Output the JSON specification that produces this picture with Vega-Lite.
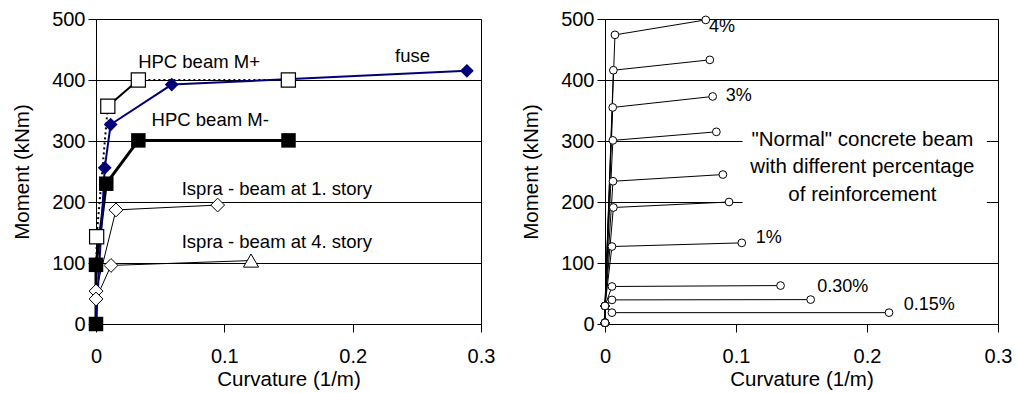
{
  "$schema": "https://vega.github.io/schema/vega-lite/v6.json",
  "padding": {"left": 12, "top": 8, "right": 5, "bottom": 2},
  "bounds": "flush",
  "spacing": 124,
  "config": {
    "font": "Liberation Sans",
    "view": {"stroke": "#000", "strokeWidth": 1},
    "axis": {
      "domainColor": "#000", "tickColor": "#000", "labelColor": "#000", "titleColor": "#000",
      "gridColor": "#000", "gridWidth": 1, "labelFont": "Liberation Sans", "titleFont": "Liberation Sans",
      "labelFontSize": 20, "titleFontSize": 20.5, "titleFontWeight": "normal", "tickSize": 8
    },
    "axisX": {"grid": false, "labelPadding": 14, "titlePadding": 3, "labelFlush": false},
    "axisY": {"grid": true, "labelPadding": 3, "titlePadding": 19}
  },
  "datasets": {
    "mminus": [{"x": 0, "y": 0}, {"x": 0, "y": 97}, {"x": 0.008, "y": 230}, {"x": 0.033, "y": 301}, {"x": 0.15, "y": 301}],
    "mplusPts": [{"x": 0.0005, "y": 143}, {"x": 0.0092, "y": 357}, {"x": 0.033, "y": 400}, {"x": 0.1499, "y": 400}],
    "mplusLines": [
      {"part": "rise", "x": 0, "y": 0}, {"part": "rise", "x": 0.0005, "y": 143}, {"part": "rise", "x": 0.0092, "y": 357},
      {"part": "knee", "x": 0.0092, "y": 357}, {"part": "knee", "x": 0.033, "y": 400},
      {"part": "plateau", "x": 0.033, "y": 400}, {"part": "plateau", "x": 0.1499, "y": 400}
    ],
    "fuse": [{"x": 0, "y": 0}, {"x": 0.0068, "y": 256}, {"x": 0.0114, "y": 327}, {"x": 0.059, "y": 392.5}, {"x": 0.289, "y": 415}],
    "ispra1": [{"x": 0, "y": 0}, {"x": 0, "y": 54}, {"x": 0.0156, "y": 187}, {"x": 0.0948, "y": 195}],
    "ispra4": [{"x": 0, "y": 0}, {"x": 0, "y": 41}, {"x": 0.0117, "y": 96}, {"x": 0.1208, "y": 104}],
    "leftLabels": [
      {"label": "HPC beam M+", "x": 0.0803, "y": 430},
      {"label": "fuse", "x": 0.2467, "y": 440},
      {"label": "HPC beam M-", "x": 0.089, "y": 335},
      {"label": "Ispra - beam at 1. story", "x": 0.1409, "y": 222},
      {"label": "Ispra - beam at 4. story", "x": 0.1409, "y": 134}
    ],
    "normal": [
      {"curve": "c1", "x": 0, "y": 2}, {"curve": "c1", "x": 0, "y": 29.6}, {"curve": "c1", "x": 0.0076, "y": 474}, {"curve": "c1", "x": 0.0769, "y": 498.5},
      {"curve": "c2", "x": 0, "y": 2}, {"curve": "c2", "x": 0, "y": 29.6}, {"curve": "c2", "x": 0.0064, "y": 416}, {"curve": "c2", "x": 0.08, "y": 433},
      {"curve": "c3", "x": 0, "y": 2}, {"curve": "c3", "x": 0, "y": 29.6}, {"curve": "c3", "x": 0.0059, "y": 355}, {"curve": "c3", "x": 0.0822, "y": 373},
      {"curve": "c4", "x": 0, "y": 2}, {"curve": "c4", "x": 0, "y": 29.6}, {"curve": "c4", "x": 0.006, "y": 301}, {"curve": "c4", "x": 0.085, "y": 315},
      {"curve": "c5", "x": 0, "y": 2}, {"curve": "c5", "x": 0, "y": 29.6}, {"curve": "c5", "x": 0.0061, "y": 234}, {"curve": "c5", "x": 0.09, "y": 245},
      {"curve": "c6", "x": 0, "y": 2}, {"curve": "c6", "x": 0, "y": 29.6}, {"curve": "c6", "x": 0.0064, "y": 191}, {"curve": "c6", "x": 0.0947, "y": 200},
      {"curve": "c7", "x": 0, "y": 2}, {"curve": "c7", "x": 0, "y": 29.6}, {"curve": "c7", "x": 0.0053, "y": 127}, {"curve": "c7", "x": 0.1044, "y": 133},
      {"curve": "c8", "x": 0, "y": 2}, {"curve": "c8", "x": 0, "y": 29.6}, {"curve": "c8", "x": 0.0053, "y": 61.5}, {"curve": "c8", "x": 0.134, "y": 63},
      {"curve": "c9", "x": 0, "y": 2}, {"curve": "c9", "x": 0, "y": 29.6}, {"curve": "c9", "x": 0.0053, "y": 39.5}, {"curve": "c9", "x": 0.157, "y": 40},
      {"curve": "c10", "x": 0, "y": 2}, {"curve": "c10", "x": 0, "y": 29.6}, {"curve": "c10", "x": 0.0053, "y": 18.6}, {"curve": "c10", "x": 0.2168, "y": 18.6}
    ],
    "normalLabels": [
      {"label": "4%", "x": 0.0794, "y": 487.5},
      {"label": "3%", "x": 0.0921, "y": 373.8},
      {"label": "1%", "x": 0.115, "y": 141.6},
      {"label": "0.30%", "x": 0.162, "y": 60.9},
      {"label": "0.15%", "x": 0.228, "y": 30.6}
    ],
    "box": [{"x": 0.105, "x2": 0.2915, "y": 180, "y2": 330}],
    "boxText": [
      {"label": "\"Normal\" concrete beam", "x": 0.1965, "y": 302},
      {"label": "with different percentage", "x": 0.1965, "y": 257},
      {"label": "of reinforcement", "x": 0.1965, "y": 211}
    ]
  },
  "hconcat": [
    {
      "width": 385,
      "height": 305,
      "encoding": {
        "x": {"field": "x", "type": "quantitative", "scale": {"domain": [0, 0.3], "nice": false},
              "axis": {"values": [0, 0.1, 0.2, 0.3], "format": "~g", "title": "Curvature (1/m)"}},
        "y": {"field": "y", "type": "quantitative", "scale": {"domain": [0, 500], "nice": false},
              "axis": {"values": [0, 100, 200, 300, 400, 500], "title": "Moment (kNm)"}}
      },
      "layer": [
        {"data": {"name": "ispra1"}, "mark": {"type": "line", "color": "#000", "strokeWidth": 1}, "encoding": {"order": {"value": null}}},
        {"data": {"name": "ispra4"}, "mark": {"type": "line", "color": "#000", "strokeWidth": 1}, "encoding": {"order": {"value": null}}},
        {"data": {"name": "mminus"}, "mark": {"type": "line", "color": "#000", "strokeWidth": 3}, "encoding": {"order": {"value": null}}},
        {"data": {"name": "mplusLines"}, "transform": [{"filter": "datum.part !== 'knee'"}],
         "mark": {"type": "line", "color": "#000", "strokeWidth": 2, "strokeDash": [2, 3]},
         "encoding": {"detail": {"field": "part"}, "order": {"value": null}}},
        {"data": {"name": "mplusLines"}, "transform": [{"filter": "datum.part === 'knee'"}],
         "mark": {"type": "line", "color": "#000", "strokeWidth": 2}, "encoding": {"order": {"value": null}}},
        {"data": {"name": "fuse"}, "mark": {"type": "line", "color": "#00007a", "strokeWidth": 2}, "encoding": {"order": {"value": null}}},
        {"data": {"name": "ispra1"}, "transform": [{"filter": "datum.y > 0"}],
         "mark": {"type": "point", "shape": "diamond", "filled": true, "fill": "#fff", "stroke": "#000", "strokeWidth": 1, "size": 190, "opacity": 1}},
        {"data": {"name": "ispra4"}, "transform": [{"filter": "datum.y > 0 && datum.x < 0.05"}],
         "mark": {"type": "point", "shape": "diamond", "filled": true, "fill": "#fff", "stroke": "#000", "strokeWidth": 1, "size": 190, "opacity": 1}},
        {"data": {"name": "ispra4"}, "transform": [{"filter": "datum.x > 0.05"}],
         "mark": {"type": "point", "shape": "triangle-up", "filled": true, "fill": "#fff", "stroke": "#000", "strokeWidth": 1, "size": 230, "opacity": 1}},
        {"data": {"name": "fuse"}, "transform": [{"filter": "datum.y > 0"}],
         "mark": {"type": "point", "shape": "diamond", "filled": true, "color": "#00007a", "size": 190, "opacity": 1}},
        {"data": {"name": "mminus"},
         "mark": {"type": "square", "color": "#000", "size": 210, "opacity": 1}},
        {"data": {"name": "mplusPts"},
         "mark": {"type": "point", "shape": "square", "filled": true, "fill": "#fff", "stroke": "#000", "strokeWidth": 1.2, "size": 200, "opacity": 1}},
        {"data": {"name": "leftLabels"},
         "mark": {"type": "text", "font": "Liberation Sans", "fontSize": 18.5, "align": "center", "baseline": "middle", "color": "#000"},
         "encoding": {"text": {"field": "label"}}}
      ]
    },
    {
      "width": 393,
      "height": 305,
      "encoding": {
        "x": {"field": "x", "type": "quantitative", "scale": {"domain": [0, 0.3], "nice": false},
              "axis": {"values": [0, 0.1, 0.2, 0.3], "format": "~g", "title": "Curvature (1/m)"}},
        "y": {"field": "y", "type": "quantitative", "scale": {"domain": [0, 500], "nice": false},
              "axis": {"values": [0, 100, 200, 300, 400, 500], "title": "Moment (kNm)"}}
      },
      "layer": [
        {"data": {"name": "box"}, "mark": {"type": "rect", "color": "#fff", "opacity": 1},
         "encoding": {"x2": {"field": "x2"}, "y2": {"field": "y2"}}},
        {"data": {"name": "normal"}, "mark": {"type": "line", "color": "#000", "strokeWidth": 1},
         "encoding": {"detail": {"field": "curve"}, "order": {"value": null}}},
        {"data": {"name": "normal"},
         "mark": {"type": "point", "shape": "circle", "filled": true, "fill": "#fff", "stroke": "#000", "strokeWidth": 1, "size": 60, "opacity": 1}},
        {"data": {"name": "normalLabels"},
         "mark": {"type": "text", "font": "Liberation Sans", "fontSize": 18, "align": "left", "baseline": "middle", "color": "#000"},
         "encoding": {"text": {"field": "label"}}},
        {"data": {"name": "boxText"},
         "mark": {"type": "text", "font": "Liberation Sans", "fontSize": 20.5, "align": "center", "baseline": "middle", "color": "#000"},
         "encoding": {"text": {"field": "label"}}}
      ]
    }
  ]
}
